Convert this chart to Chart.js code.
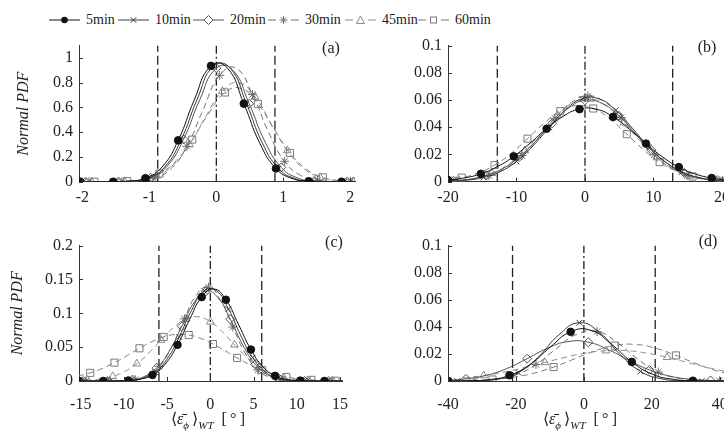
<!DOCTYPE html>
<html lang="en">
<head>
<meta charset="UTF-8" />
<title>Normal PDF by averaging window</title>
<script src="https://cdn.jsdelivr.net/npm/chart.js"></script>
<style>
  body { margin:0; width:724px; height:433px; overflow:hidden; background:#fff;
         font-family:"Liberation Serif", serif; color:#222; position:relative; }
  canvas { position:absolute; }
  .item { position:absolute; top:13px; height:14px; display:flex; align-items:center;
          font-size:14px; white-space:nowrap; }
  .item span { margin-left:6px; }
  .tag { position:absolute; font-size:16px; transform:translate(-50%,-50%); white-space:nowrap; }
  .xt { position:absolute; font-size:16px; transform:translate(-50%,-50%); white-space:nowrap; }
  .xt sub { font-size:11px; }
</style>
</head>
<body>
<div id="legend"></div>

<canvas id="pa" width="362" height="180" style="left:0;top:30px"></canvas>
<canvas id="pb" width="380" height="180" style="left:362px;top:30px"></canvas>
<canvas id="pc" width="362" height="190" style="left:0;top:230px"></canvas>
<canvas id="pd" width="380" height="190" style="left:362px;top:230px"></canvas>

<div class="tag" style="left:331px;top:48px">(a)</div>
<div class="tag" style="left:707px;top:47px">(b)</div>
<div class="tag" style="left:334px;top:242px">(c)</div>
<div class="tag" style="left:708px;top:241px">(d)</div>

<div class="xt" style="left:208px;top:420px">&#10216;<i>&#949;&#772;</i><sub><i>&#981;</i></sub>&thinsp;&#10217;<sub><i>WT</i></sub>&nbsp;&nbsp;[&thinsp;&#176;&thinsp;]</div>
<div class="xt" style="left:580px;top:420px">&#10216;<i>&#949;&#772;</i><sub><i>&#981;</i></sub>&thinsp;&#10217;<sub><i>WT</i></sub>&nbsp;&nbsp;[&thinsp;&#176;&thinsp;]</div>

<script>
  const seriesNames = ["5min", "10min", "20min", "30min", "45min", "60min"];

  // ---- panel (a) : [x, pdf] points
  const a5  = [[-2.27,0],[-2.03,0],[-1.79,0],[-1.54,0],[-1.30,0.005],[-1.06,0.028],[-0.81,0.119],[-0.57,0.334],[-0.33,0.660],[-0.08,0.936],[0.16,0.922],[0.41,0.631],[0.65,0.310],[0.89,0.107],[1.13,0.026],[1.38,0.004],[1.62,0],[1.87,0],[2.11,0]];
  const a10 = [[-2.23,0],[-1.99,0],[-1.75,0],[-1.50,0.001],[-1.26,0.005],[-1.02,0.028],[-0.77,0.119],[-0.53,0.334],[-0.29,0.660],[-0.04,0.936],[0.20,0.922],[0.45,0.631],[0.69,0.310],[0.93,0.107],[1.17,0.026],[1.42,0.004],[1.66,0],[1.91,0],[2.15,0]];
  const a20 = [[-2.19,0],[-1.95,0],[-1.71,0],[-1.46,0.001],[-1.22,0.006],[-0.98,0.032],[-0.73,0.128],[-0.49,0.342],[-0.25,0.658],[0.00,0.918],[0.24,0.905],[0.49,0.631],[0.73,0.319],[0.97,0.116],[1.21,0.031],[1.46,0.006],[1.70,0.001],[1.95,0],[2.19,0]];
  const a30 = [[-2.14,0],[-1.90,0],[-1.66,0],[-1.41,0.001],[-1.17,0.005],[-0.93,0.026],[-0.68,0.104],[-0.44,0.286],[-0.20,0.578],[0.05,0.860],[0.29,0.918],[0.54,0.705],[0.78,0.400],[1.02,0.165],[1.26,0.050],[1.51,0.010],[1.75,0.002],[2.00,0],[2.24,0]];
  const a45 = [[-2.10,0],[-1.86,0],[-1.62,0.001],[-1.37,0.003],[-1.13,0.013],[-0.89,0.047],[-0.64,0.137],[-0.40,0.300],[-0.16,0.524],[0.09,0.732],[0.33,0.799],[0.58,0.684],[0.82,0.466],[1.06,0.252],[1.30,0.108],[1.55,0.035],[1.79,0.009],[2.04,0.002],[2.28,0]];
  const a60 = [[-2.06,0],[-1.82,0],[-1.58,0.001],[-1.33,0.005],[-1.09,0.021],[-0.85,0.066],[-0.60,0.170],[-0.36,0.340],[-0.12,0.547],[0.13,0.721],[0.37,0.753],[0.62,0.629],[0.86,0.425],[1.10,0.233],[1.34,0.103],[1.59,0.035],[1.83,0.010],[2.08,0.003],[2.32,0]];
  const aEdges = [-0.875, 0.875];
  const aCentre = [0];
  const aXTicks = [-2, -1, 0, 1, 2];
  const aYTicks = [0, 0.2, 0.4, 0.6, 0.8, 1];

  // ---- panel (b)
  const b5  = [[-22.4,0.0005],[-20,0.0012],[-17.6,0.0028],[-15.2,0.0058],[-12.8,0.0111],[-10.4,0.0186],[-8.0,0.0284],[-5.6,0.0389],[-3.2,0.0480],[-0.8,0.0533],[1.7,0.0532],[4.1,0.0476],[6.5,0.0385],[8.9,0.0280],[11.3,0.0183],[13.7,0.0107],[16.1,0.0057],[18.5,0.0027],[20.9,0.0012],[23.3,0.0005]];
  const b10 = [[-22.0,0.0001],[-19.6,0.0004],[-17.2,0.0012],[-14.8,0.0032],[-12.4,0.0074],[-10.0,0.0149],[-7.6,0.0263],[-5.2,0.0399],[-2.8,0.0529],[-0.4,0.0609],[2.1,0.0607],[4.5,0.0525],[6.9,0.0394],[9.3,0.0256],[11.7,0.0146],[14.1,0.0071],[16.5,0.0031],[18.9,0.0011],[21.3,0.0004],[23.7,0.0001]];
  const b20 = [[-21.6,0.0002],[-19.2,0.0007],[-16.8,0.0019],[-14.4,0.0046],[-12.0,0.0097],[-9.6,0.0182],[-7.2,0.0299],[-4.8,0.0429],[-2.4,0.0541],[0.0,0.0598],[2.5,0.0575],[4.9,0.0486],[7.3,0.0358],[9.7,0.0232],[12.1,0.0132],[14.5,0.0065],[16.9,0.0028],[19.3,0.0011],[21.7,0.0004]];
  const b30 = [[-21.2,0.0002],[-18.8,0.0006],[-16.4,0.0017],[-14.0,0.0045],[-11.6,0.0100],[-9.2,0.0192],[-6.8,0.0321],[-4.4,0.0466],[-2.0,0.0582],[0.4,0.0630],[2.9,0.0586],[5.3,0.0471],[7.7,0.0328],[10.1,0.0197],[12.5,0.0103],[14.9,0.0046],[17.3,0.0018],[19.7,0.0006],[22.1,0.0002]];
  const b45 = [[-20.8,0.0003],[-18.4,0.0010],[-16.0,0.0026],[-13.6,0.0062],[-11.2,0.0127],[-8.8,0.0229],[-6.4,0.0359],[-4.0,0.0490],[-1.6,0.0585],[0.8,0.0608],[3.3,0.0548],[5.7,0.0432],[8.1,0.0297],[10.5,0.0178],[12.9,0.0093],[15.3,0.0042],[17.7,0.0017],[20.1,0.0006],[22.5,0.0002]];
  const b60 = [[-20.4,0.0012],[-18.0,0.0030],[-15.6,0.0064],[-13.2,0.0122],[-10.8,0.0208],[-8.4,0.0316],[-6.0,0.0428],[-3.6,0.0518],[-1.2,0.0559],[1.2,0.0538],[3.7,0.0458],[6.1,0.0349],[8.5,0.0237],[10.9,0.0144],[13.3,0.0078],[15.7,0.0038],[18.1,0.0016],[20.5,0.0006],[22.9,0.0002]];
  const bEdges = [-12.8, 12.8];
  const bCentre = [0];
  const bXTicks = [-20, -10, 0, 10, 20];
  const bYTicks = [0, 0.02, 0.04, 0.06, 0.08, 0.1];

  // ---- panel (c)
  const c5  = [[-16.6,0],[-15.2,0],[-13.8,0],[-12.4,0],[-10.9,0.0001],[-9.5,0.0007],[-8.1,0.0027],[-6.7,0.0090],[-5.3,0.0238],[-3.8,0.0534],[-2.4,0.0907],[-1.0,0.1239],[0.4,0.1359],[1.8,0.1200],[3.3,0.0825],[4.7,0.0464],[6.1,0.0209],[7.5,0.0076],[8.9,0.0022],[10.4,0.0005],[11.8,0.0001],[13.2,0],[14.6,0],[16.0,0]];
  const c10 = [[-16.3,0],[-14.9,0],[-13.5,0],[-12.1,0],[-10.7,0.0002],[-9.2,0.0011],[-7.8,0.0042],[-6.4,0.0130],[-5.0,0.0326],[-3.6,0.0651],[-2.2,0.1037],[-0.7,0.1332],[0.7,0.1332],[2.1,0.1063],[3.5,0.0678],[4.9,0.0345],[6.4,0.0130],[7.8,0.0042],[9.2,0.0011],[10.6,0.0002],[12.0,0],[13.5,0],[14.9,0],[16.3,0]];
  const c20 = [[-16.1,0],[-14.7,0],[-13.3,0],[-11.9,0.0001],[-10.4,0.0005],[-9.0,0.0020],[-7.6,0.0069],[-6.2,0.0193],[-4.8,0.0432],[-3.3,0.0807],[-1.9,0.1154],[-0.5,0.1327],[0.9,0.1228],[2.3,0.0914],[3.8,0.0523],[5.2,0.0247],[6.6,0.0094],[8.0,0.0029],[9.4,0.0007],[10.9,0.0001],[12.3,0],[13.7,0],[15.1,0],[16.5,0]];
  const c30 = [[-15.8,0],[-14.4,0],[-13.0,0],[-11.6,0.0001],[-10.1,0.0004],[-8.7,0.0020],[-7.3,0.0074],[-5.9,0.0216],[-4.5,0.0493],[-3.0,0.0918],[-1.6,0.1272],[-0.2,0.1387],[1.2,0.1188],[2.6,0.0798],[4.1,0.0399],[5.5,0.0163],[6.9,0.0053],[8.3,0.0013],[9.7,0.0003],[11.2,0],[12.6,0],[14.0,0],[15.4,0],[16.8,0]];
  const c45 = [[-15.6,0.0004],[-14.2,0.0011],[-12.8,0.0029],[-11.3,0.0069],[-9.9,0.0142],[-8.5,0.0256],[-7.1,0.0416],[-5.7,0.0604],[-4.3,0.0785],[-2.8,0.0918],[-1.4,0.0948],[0.0,0.0875],[1.4,0.0724],[2.8,0.0535],[4.3,0.0342],[5.7,0.0201],[7.1,0.0106],[8.5,0.0049],[9.9,0.0021],[11.4,0.0007],[12.8,0.0002],[14.2,0.0001],[15.6,0],[17.0,0]];
  const c60 = [[-15.3,0.0073],[-13.9,0.0120],[-12.5,0.0186],[-11.1,0.0271],[-9.6,0.0378],[-8.2,0.0483],[-6.8,0.0579],[-5.4,0.0651],[-4.0,0.0687],[-2.5,0.0679],[-1.1,0.0629],[0.3,0.0546],[1.7,0.0446],[3.1,0.0341],[4.6,0.0239],[6.0,0.0160],[7.4,0.0101],[8.8,0.0060],[10.2,0.0033],[11.7,0.0017],[13.1,0.0008],[14.5,0.0004],[15.9,0.0002],[17.3,0.0001]];
  const cEdges = [-5.95, 5.95];
  const cCentre = [0];
  const cXTicks = [-15, -10, -5, 0, 5, 10, 15];
  const cYTicks = [0, 0.05, 0.1, 0.15, 0.2];

  // ---- panel (d)
  const d5  = [[-45.9,0],[-39.9,0],[-33.9,0.0002],[-27.9,0.0010],[-21.9,0.0042],[-15.9,0.0121],[-9.9,0.0250],[-3.9,0.0363],[2.1,0.0374],[8.1,0.0272],[14.1,0.0141],[20.1,0.0051],[26.1,0.0013],[32.1,0.0002],[38.1,0],[44.1,0]];
  const d10 = [[-43.3,0],[-37.3,0],[-31.3,0.0002],[-25.3,0.0014],[-19.3,0.0062],[-13.3,0.0180],[-7.3,0.0342],[-1.3,0.0430],[4.7,0.0356],[10.7,0.0195],[16.7,0.0071],[22.7,0.0017],[28.7,0.0003],[34.7,0],[40.7,0]];
  const d20 = [[-40.7,0.0005],[-34.7,0.0016],[-28.7,0.0042],[-22.7,0.0092],[-16.7,0.0165],[-10.7,0.0242],[-4.7,0.0291],[1.3,0.0286],[7.3,0.0230],[13.3,0.0152],[19.3,0.0082],[25.3,0.0036],[31.3,0.0013],[37.3,0.0004],[43.3,0.0002]];
  const d30 = [[-38.1,0],[-32.1,0.0002],[-26.1,0.0012],[-20.1,0.0045],[-14.1,0.0122],[-8.1,0.0239],[-2.1,0.0345],[3.9,0.0365],[9.9,0.0282],[15.9,0.0160],[21.9,0.0066],[27.9,0.0020],[33.9,0.0004],[39.9,0.0001],[45.9,0]];
  const d45 = [[-35.5,0.0023],[-29.5,0.0040],[-23.5,0.0066],[-17.5,0.0099],[-11.5,0.0137],[-5.5,0.0175],[0.5,0.0206],[6.5,0.0224],[12.5,0.0224],[18.5,0.0206],[24.5,0.0175],[30.5,0.0137],[36.5,0.0099],[42.5,0.0066]];
  const d60 = [[-32.9,0.0004],[-26.9,0.0011],[-20.9,0.0028],[-14.9,0.0057],[-8.9,0.0103],[-2.9,0.0162],[3.1,0.0221],[9.1,0.0262],[15.1,0.0270],[21.1,0.0242],[27.1,0.0189],[33.1,0.0128],[39.1,0.0075],[45.1,0.0038]];
  const dEdges = [-21, 21];
  const dCentre = [0];
  const dXTicks = [-40, -20, 0, 20, 40];
  const dYTicks = [0, 0.02, 0.04, 0.06, 0.08, 0.1];

  // ---- look of each averaging window
  const looks = [
    { color: "#111111", dash: [],     shape: "circle",   fill: "#111111",       r: 3.8 },
    { color: "#3a3a3a", dash: [],     shape: "crossRot", fill: "rgba(0,0,0,0)", r: 4 },
    { color: "#555555", dash: [],     shape: "rectRot",  fill: "rgba(0,0,0,0)", r: 4.5 },
    { color: "#6e6e6e", dash: [6, 4], shape: "star",     fill: "rgba(0,0,0,0)", r: 4.5 },
    { color: "#8c8c8c", dash: [6, 4], shape: "triangle", fill: "rgba(0,0,0,0)", r: 4.5 },
    { color: "#7a7a7a", dash: [6, 4], shape: "rect",     fill: "rgba(0,0,0,0)", r: 5 }
  ];
  const legendLeft = [49, 118, 193, 268, 345, 418];
  const axisCol = "#333";
  const textCol = "#222";
  const serif = "'Liberation Serif', serif";

  // small inward ticks, like the original axes
  const inTicks = {
    id: "inTicks",
    afterDraw(chart) {
      const { ctx, chartArea: a, scales: { x, y } } = chart;
      ctx.save();
      ctx.strokeStyle = axisCol;
      ctx.lineWidth = 1;
      ctx.beginPath();
      x.ticks.forEach(t => {
        const p = Math.round(x.getPixelForValue(t.value)) + 0.5;
        ctx.moveTo(p, a.bottom); ctx.lineTo(p, a.bottom - 4);
      });
      y.ticks.forEach(t => {
        const p = Math.round(y.getPixelForValue(t.value)) + 0.5;
        ctx.moveTo(a.left, p); ctx.lineTo(a.left + 4, p);
      });
      ctx.stroke();
      ctx.restore();
    }
  };

  function refLine(v, ymax, dash) {
    return {
      data: [[v, 0], [v, ymax]],
      borderColor: "#222", borderWidth: 1.3, borderDash: dash,
      pointRadius: 0, tension: 0
    };
  }

  function panel(id, o) {
    const sets = o.series.map((pts, k) => ({
      label: seriesNames[k],
      data: pts,
      borderColor: looks[k].color,
      borderWidth: 1,
      borderDash: looks[k].dash,
      tension: 0.5,
      pointStyle: looks[k].shape,
      pointBorderColor: looks[k].color,
      pointBackgroundColor: looks[k].fill,
      pointBorderWidth: 1,
      pointRadius: c => ((c.dataIndex - 1) % o.every === 0 ? looks[k].r : 0)
    }));
    o.edges.forEach(v => sets.push(refLine(v, o.ymax, [9, 4])));
    o.centre.forEach(v => sets.push(refLine(v, o.ymax, [8, 3, 2, 3])));

    new Chart(document.getElementById(id), {
      type: "line",
      data: { datasets: sets },
      options: {
        responsive: false,
        animation: false,
        events: [],
        layout: { padding: o.pad },
        plugins: { legend: { display: false }, tooltip: { enabled: false } },
        scales: {
          x: {
            type: "linear", min: o.xmin, max: o.xmax,
            border: { display: true, color: axisCol, width: 1 },
            grid: { display: false, drawTicks: false },
            ticks: { font: { family: serif, size: 16 }, color: textCol, padding: o.xpad,
                     maxRotation: 0, autoSkip: false, callback: v => String(v) },
            afterBuildTicks: s => { s.ticks = o.xt.map(v => ({ value: v })); },
            afterFit: s => { s.height = o.xh; }
          },
          y: {
            type: "linear", min: 0, max: o.ymax,
            border: { display: true, color: axisCol, width: 1 },
            grid: { display: false, drawTicks: false },
            ticks: { font: { family: serif, size: 16 }, color: textCol, padding: 6,
                     callback: v => String(v) },
            afterBuildTicks: s => { s.ticks = o.yt.map(v => ({ value: v })); },
            afterFit: s => { s.width = o.yw; },
            title: o.ytitle
              ? { display: true, text: "Normal PDF", color: textCol,
                  font: { family: serif, size: 16, style: "italic" },
                  padding: { top: o.ytitle, bottom: 0 } }
              : { display: false }
          }
        }
      },
      plugins: [inTicks]
    });
  }

  panel("pa", { series: [a5, a10, a20, a30, a45, a60], every: 2, edges: aEdges, centre: aCentre,
                xt: aXTicks, yt: aYTicks, xmin: -2.05, xmax: 2.07, ymax: 1.1,
                pad: { top: 8.7, right: 7, left: 0, bottom: 0 }, yw: 79, xh: 28.3, xpad: 6, ytitle: 14 });
  panel("pb", { series: [b5, b10, b20, b30, b45, b60], every: 2, edges: bEdges, centre: bCentre,
                xt: bXTicks, yt: bYTicks, xmin: -20, xmax: 21.9, ymax: 0.1,
                pad: { top: 10, right: 7, left: 0, bottom: 0 }, yw: 86, xh: 28.3, xpad: 6, ytitle: 0 });
  panel("pc", { series: [c5, c10, c20, c30, c45, c60], every: 2, edges: cEdges, centre: cCentre,
                xt: cXTicks, yt: cYTicks, xmin: -15.2, xmax: 15.3, ymax: 0.2,
                pad: { top: 10, right: 8.5, left: 0, bottom: 0 }, yw: 79, xh: 39, xpad: 14, ytitle: 8 });
  panel("pd", { series: [d5, d10, d20, d30, d45, d60], every: 3, edges: dEdges, centre: dCentre,
                xt: dXTicks, yt: dYTicks, xmin: -40, xmax: 41.5, ymax: 0.1,
                pad: { top: 10, right: 13, left: 0, bottom: 0 }, yw: 86, xh: 39, xpad: 14, ytitle: 0 });

  // legend row across the top
  const markSvg = {
    circle:   c => `<circle cx="15.5" cy="7" r="3.3" fill="${c}"/>`,
    crossRot: c => `<path d="M12.7 4.2L18.3 9.8M18.3 4.2L12.7 9.8" stroke="${c}"/>`,
    rectRot:  c => `<path d="M15.5 2.5L20 7L15.5 11.5L11 7Z" fill="#fff" stroke="${c}"/>`,
    star:     c => `<path d="M15.5 3V11M11.5 7H19.5M12.7 4.2L18.3 9.8M18.3 4.2L12.7 9.8" stroke="${c}"/>`,
    triangle: c => `<path d="M15.5 3L19.5 10.5H11.5Z" fill="#fff" stroke="${c}"/>`,
    rect:     c => `<rect x="12.5" y="4" width="6" height="6" fill="#fff" stroke="${c}"/>`
  };
  const legend = document.getElementById("legend");
  seriesNames.forEach((name, k) => {
    const lk = looks[k];
    const line = lk.dash.length
      ? `<path d="M0 7H8M23 7H31" stroke="${lk.color}"/>`
      : `<path d="M0 7H31" stroke="${lk.color}"/>`;
    const item = document.createElement("div");
    item.className = "item";
    item.style.left = legendLeft[k] + "px";
    item.innerHTML = `<svg width="31" height="14">${line}${markSvg[lk.shape](lk.color)}</svg><span>${name}</span>`;
    legend.appendChild(item);
  });
</script>
</body>
</html>
